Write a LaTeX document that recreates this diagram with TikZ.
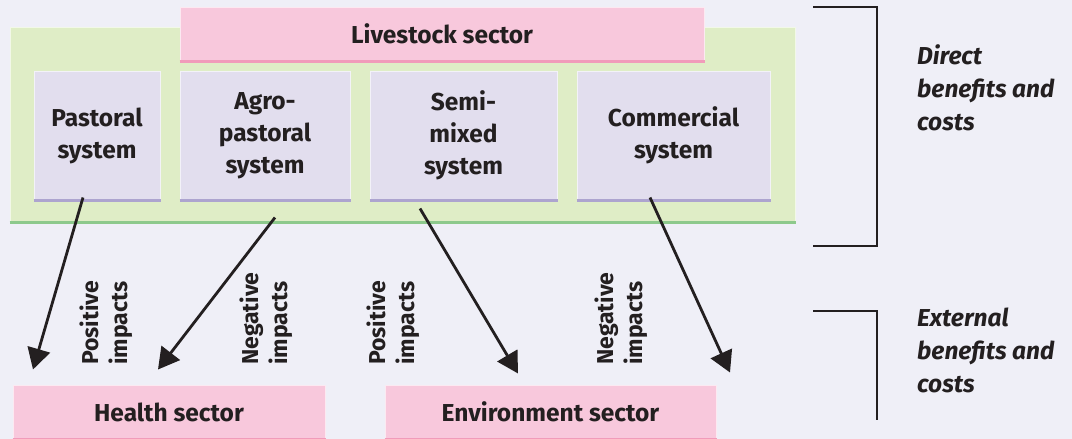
\documentclass[tikz,border=0pt]{standalone}
\usepackage{fontspec}
\setmainfont{Fira Sans}
\usetikzlibrary{arrows.meta,calc}
\definecolor{bgcol}{HTML}{EFEFF7}
\definecolor{greenfill}{HTML}{DFEDC6}
\definecolor{greenedge}{HTML}{8DC98C}
\definecolor{pinkfill}{HTML}{F8C8DC}
\definecolor{pinkedge}{HTML}{F19BBA}
\definecolor{lilacfill}{HTML}{E2DEEE}
\definecolor{lilacedge}{HTML}{ADA4CF}
\definecolor{inkcol}{HTML}{231F20}
\begin{document}
\begin{tikzpicture}[x=1pt,y=-1pt,
    every node/.style={text=inkcol,font=\fontsize{24.5}{32}\selectfont\bfseries},
    frame/.style={fill=greenfill,draw=greenfill!40!white,line width=1pt,inner sep=0pt,minimum width=785pt,minimum height=195pt},
    sector/.style={fill=pinkfill,draw=pinkfill!40!white,line width=1pt,inner sep=0pt,minimum height=54pt},
    system/.style={fill=lilacfill,draw=lilacfill!40!white,line width=1pt,inner sep=0pt,minimum height=129pt,align=center},
    impact/.style={draw=inkcol,line width=2.8pt,-{Triangle[length=21pt,width=23pt]}},
    impactlabel/.style={rotate=90,anchor=west,align=left,inner sep=0pt,font=\fontsize{23}{29}\selectfont\bfseries},
    bracket/.style={draw=inkcol,line width=1.3pt},
    sidetext/.style={anchor=west,align=left,inner sep=0pt,font=\fontsize{24.5}{33}\selectfont\bfseries\itshape}]
    \useasboundingbox[fill=bgcol] (0,0) rectangle (1072,439);
    % livestock sector and its systems
    \node[frame] (live) at (402.5,124.5) {};
    \node[sector,minimum width=524pt] (livesec) at (442,34) {Livestock sector};
    \node[system,minimum width=126pt] (pas) at (97,135.5) {Pastoral\\system};
    \node[system,minimum width=170pt] (agro) at (265,135.5) {Agro-\\pastoral\\system};
    \node[system,minimum width=187pt] (semi) at (463.5,135.5) {Semi-\\mixed\\system};
    \node[system,minimum width=193pt] (com) at (673.5,135.5) {Commercial\\system};
    % other sectors
    \node[sector,minimum width=312pt] (health) at (169,412) {Health sector};
    \node[sector,minimum width=331pt] (env) at (550.5,412) {Environment sector};
    % darker lower edges
    \draw[greenedge,line width=3pt] (live.south west) -- (live.south east);
    \foreach \n in {livesec,health,env}
        \draw[pinkedge,line width=3pt] (\n.south west) -- (\n.south east);
    \foreach \n in {pas,agro,semi,com}
        \draw[lilacedge,line width=3pt] (\n.south west) -- (\n.south east);
    % impacts
    \draw[impact] ([xshift=-14pt,yshift=3pt]pas.south) -- ([xshift=-136pt,yshift=15pt]health.north);
    \draw[impact] ([xshift=10pt,yshift=-17pt]agro.south) -- ([xshift=-11pt,yshift=15pt]health.north);
    \draw[impact] ([xshift=-43.5pt,yshift=-8pt]semi.south) -- ([xshift=-32.5pt,yshift=11pt]env.north);
    \draw[impact] ([xshift=-23.5pt,yshift=3pt]com.south) -- ([xshift=179.5pt,yshift=12pt]env.north);
    \node[impactlabel] (pos1) at (106,365) {Positive\\impacts};
    \node[impactlabel] (neg1) at (266,365) {Negative\\impacts};
    \node[impactlabel] (pos2) at (393,365) {Positive\\impacts};
    \node[impactlabel] (neg2) at (621,365) {Negative\\impacts};
    % brackets
    \coordinate (d1) at (813,7);
    \coordinate (d2) at (813,246);
    \coordinate (e1) at (813,311);
    \coordinate (e2) at (877,420);
    \draw[bracket] (d1) -- (d1 -| e2) -- (d2 -| e2) -- (d2);
    \draw[bracket] (e1) -- (e1 -| e2) -- (e2);
    \node[sidetext] (direct) at (917,88) {Direct\\benefits and\\costs};
    \node[sidetext] (external) at (917,350) {External\\benefits and\\costs};
\end{tikzpicture}
\end{document}
